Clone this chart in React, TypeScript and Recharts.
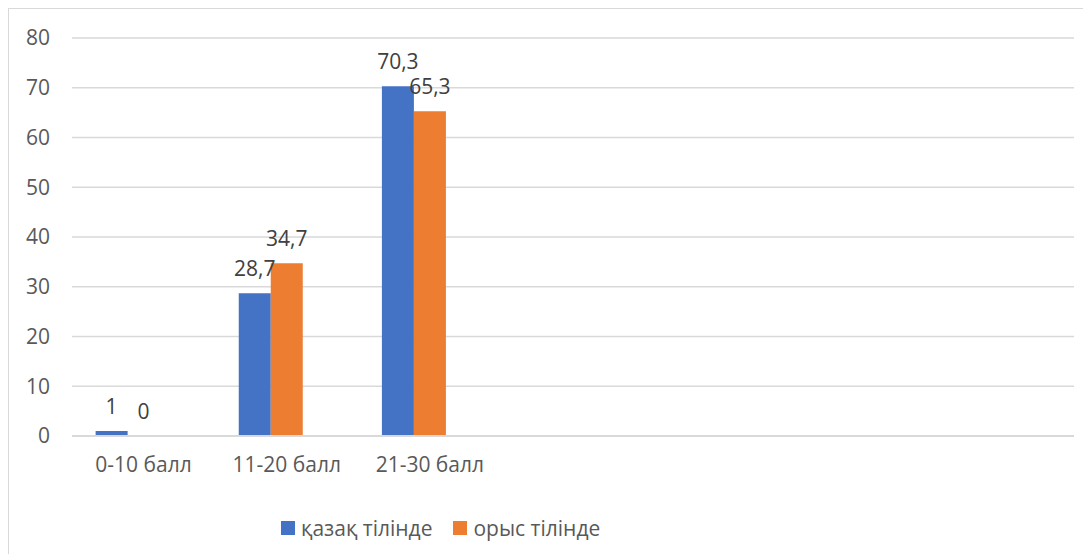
import React from "react";
import { BarChart, Bar, XAxis, YAxis, CartesianGrid, Legend, LabelList } from "recharts";

const categories = ["0-10 балл", "11-20 балл", "21-30 балл", "", "", "", ""];
const kazakh = [1, 28.7, 70.3, null, null, null, null];
const russian = [0, 34.7, 65.3, null, null, null, null];
const yTicks = [0, 10, 20, 30, 40, 50, 60, 70, 80];
const seriesNames = ["қазақ тілінде", "орыс тілінде"];
const seriesColors = ["#4472C4", "#ED7D31"];

const data = categories.map((c, i) => ({
  cat: c,
  kz: kazakh[i],
  ru: russian[i],
  empty: null,
}));

const FONT = "'Open Sans', 'Noto Sans', sans-serif";
const FS = 21;
const fmt = (v: any) => (v === null || v === undefined ? "" : String(v).replace(".", ","));

const renderLabel = (props: any) => {
  const { x, y, width, value } = props;
  if (value === null || value === undefined) return null;
  return (
    <text
      x={Number(x) + Number(width) / 2}
      y={Number(y) - 17}
      textAnchor="middle"
      fontSize={FS}
      fill="#404040"
      fontFamily={FONT}
    >
      {fmt(value)}
    </text>
  );
};

const zeroMin = (value: any) => (value === 0 ? 0.01 : 0);

const LegendContent = () => (
  <div style={{ display: "flex", alignItems: "center", fontFamily: FONT, fontSize: FS, color: "#595959", height: 24, whiteSpace: "nowrap" }}>
    {seriesNames.map((n, i) => (
      <div key={i} style={{ display: "flex", alignItems: "center", marginRight: 21 }}>
        <div style={{ width: 14, height: 14, background: seriesColors[i], marginRight: 6 }} />
        <span>{n}</span>
      </div>
    ))}
  </div>
);

export default function App() {
  return (
    <div style={{ width: 1082, height: 545, borderTop: "1px solid #d9d9d9", borderLeft: "1px solid #d9d9d9", background: "#fff", position: "relative" }}>
      <BarChart
        width={1082}
        height={545}
        data={data}
        margin={{ top: 29, right: 17, bottom: 68, left: 0 }}
        barCategoryGap="16.5%"
        barGap={0}
      >
        <CartesianGrid vertical={false} stroke="#d9d9d9" strokeWidth={1.5} />
        <XAxis
          dataKey="cat"
          interval={0}
          tickLine={false}
          axisLine={{ stroke: "#d9d9d9", strokeWidth: 2 }}
          tick={{ fontSize: FS, fill: "#595959", fontFamily: FONT }}
          tickSize={0}
          tickMargin={21}
          height={50}
        />
        <YAxis
          domain={[0, 80]}
          ticks={yTicks}
          interval={0}
          tickLine={false}
          axisLine={false}
          tick={{ fontSize: FS, fill: "#595959", fontFamily: FONT }}
          tickSize={0}
          tickMargin={22}
          width={63}
        />
        <Legend
          layout="horizontal"
          verticalAlign="middle"
          align="center"
          wrapperStyle={{ top: 507, left: 272, width: "auto" }}
          content={<LegendContent />}
        />
        <Bar dataKey="kz" name={seriesNames[0]} fill={seriesColors[0]} minPointSize={zeroMin} isAnimationActive={false}>
          <LabelList dataKey="kz" content={renderLabel} />
        </Bar>
        <Bar dataKey="ru" name={seriesNames[1]} fill={seriesColors[1]} minPointSize={zeroMin} isAnimationActive={false}>
          <LabelList dataKey="ru" content={renderLabel} />
        </Bar>
        <Bar dataKey="empty" legendType="none" fill="transparent" isAnimationActive={false} />
      </BarChart>
    </div>
  );
}
